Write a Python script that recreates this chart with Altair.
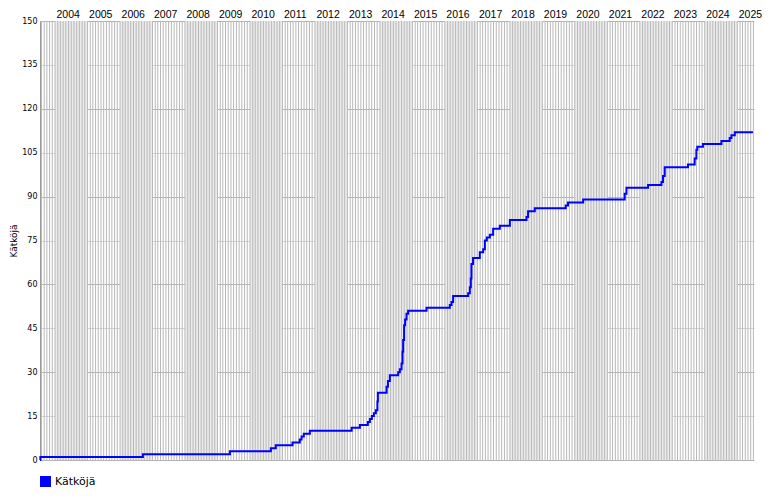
import altair as alt
import pandas as pd

# cumulative count (step changes)
dates = ["2003-07-16","2003-07-20","2006-09-15","2009-05-20","2010-08-24","2010-10-18","2011-04-24","2011-07-15",
         "2011-08-04","2011-08-29","2011-11-05","2013-02-17","2013-05-21","2013-08-18","2013-09-10","2013-10-02",
         "2013-10-25","2013-11-16","2013-12-04","2013-12-09","2014-03-17","2014-04-01","2014-04-23","2014-07-25",
         "2014-08-13","2014-09-01","2014-09-12","2014-09-19","2014-09-30","2014-10-11","2014-10-27","2014-11-14",
         "2015-06-09","2016-02-26","2016-03-16","2016-04-03","2016-09-19","2016-10-08","2016-10-19","2016-10-26",
         "2016-11-13","2017-01-28","2017-03-07","2017-03-26","2017-04-17","2017-05-21","2017-06-27","2017-09-10",
         "2018-01-01","2018-07-07","2018-07-25","2018-10-08","2019-09-21","2019-10-17","2020-04-04","2021-07-15",
         "2021-08-04","2022-04-04","2022-09-01","2022-09-19","2022-10-08","2023-06-27","2023-09-10","2023-09-29",
         "2023-10-10","2023-12-12","2024-07-07","2024-10-08","2024-10-27","2024-12-04","2025-06-26"]
values = [0,1,2,3,4,5,6,7,8,9,10,11,12,13,14,15,16,17,20,23,25,27,29,30,31,33,37,41,46,48,50,51,52,53,54,56,
          57,59,62,67,69,71,72,75,76,77,79,80,82,83,85,86,87,88,89,91,93,94,95,97,100,101,103,106,107,108,
          109,110,111,112,112]
series_name = "Kätköjä"
years = list(range(2004, 2026))
y_ticks = list(range(0, 151, 15))
x_domain = ["2003-07-16", "2025-07-08"]

df = pd.DataFrame({"date": dates, "count": values, "series": series_name})
months = pd.DataFrame({"m": pd.date_range("2003-08-01", "2025-07-01", freq="MS").strftime("%Y-%m-%d")})
bands = pd.DataFrame({"start": [f"{y}-01-01" for y in years if y % 2 == 0],
                      "end": [f"{y+1}-01-01" for y in years if y % 2 == 0]})

xscale = alt.Scale(domain=x_domain, nice=False)
yscale = alt.Scale(domain=[0, 150], nice=False)
PLOT_H = 439

xaxis = alt.Axis(orient="top", values=[f"{y}-01-01" for y in years],
                 labelExpr="timeFormat(datum.value, '%Y')", labelAlign="left", labelOffset=1, labelPadding=2,
                 ticks=False, domain=False, grid=False, labelFont="Liberation Sans", labelFontSize=10.5,
                 labelColor="#000", labelOverlap=False, labelFlush=False, labelBound=False, title=None)

band_layer = alt.Chart(bands).mark_rect(color="#ebebeb", clip=True).encode(
    x=alt.X("start:T", scale=xscale, axis=xaxis),
    x2="end:T",
    y=alt.value(0), y2=alt.value(PLOT_H),
)

month_layer = alt.Chart(months).mark_rule(color="#b8b8b8", strokeWidth=1).encode(
    x=alt.X("m:T", scale=xscale, axis=xaxis),
)

line_layer = alt.Chart(df).mark_line(interpolate="step-after", strokeWidth=2).encode(
    x=alt.X("date:T", scale=xscale, axis=xaxis),
    y=alt.Y("count:Q", scale=yscale, axis=alt.Axis(
        values=y_ticks, ticks=False, labelPadding=3, labelFont="DejaVu Sans", labelFontSize=8,
        labelColor="#000", domain=True, domainColor="#999",
        gridColor={"condition": {"test": "datum.value % 30 === 0", "value": "#b4b4b4"}, "value": "#d6d6d6"},
        title=series_name, titleFont="DejaVu Sans", titleFontSize=9, titleFontWeight="normal",
        titleColor="#000", titlePadding=3)),
    color=alt.Color("series:N", scale=alt.Scale(range=["#0000ff"]), legend=alt.Legend(
        title=None, orient="none", legendX=0, legendY=PLOT_H + 16, symbolType="square", symbolSize=121,
        symbolFillColor="#0000ff", symbolStrokeColor="#0000ff", symbolStrokeWidth=0,
        labelFont="DejaVu Sans", labelFontSize=11, labelColor="#000", labelOffset=4)),
)

chart = alt.layer(band_layer, month_layer, line_layer).properties(
    width=714, height=PLOT_H,
    autosize=alt.AutoSizeParams(type="none"),
    padding={"left": 32, "top": 13, "right": 8, "bottom": 32},
).configure_view(stroke=None).configure_axis(gridOpacity=1)

chart.save("out.html", embed_options={"renderer": "svg", "actions": False})
